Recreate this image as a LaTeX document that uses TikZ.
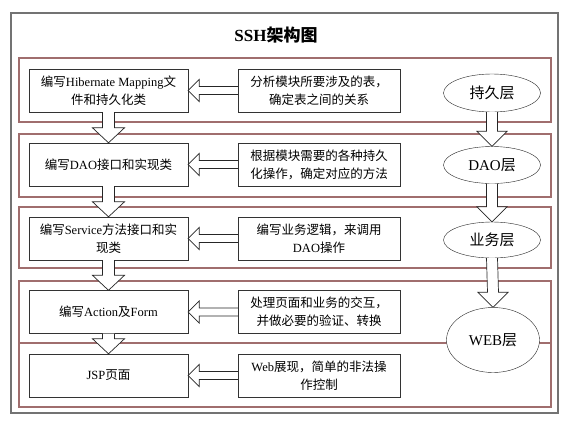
\documentclass[tikz,border=0pt]{standalone}
\usepackage{fontspec}
\setmainfont{Liberation Serif}
\newfontfamily\cjk{Noto Sans CJK SC}
\newcommand\zh[1]{{\cjk #1}}
\usetikzlibrary{calc,shapes.geometric}

\definecolor{bandred}{RGB}{160,110,110}
\definecolor{framegray}{RGB}{115,115,115}

% hollow block arrows, drawn from node to node
\newcommand\downblock[4]{%
  \draw[blk] ($(#1.south)+(-#3,0)$) -- ($(#2.north)+(-#3,-15)$) -- ($(#2.north)+(-#4,-15)$)
    -- (#2.north) -- ($(#2.north)+(#4,-15)$) -- ($(#2.north)+(#3,-15)$) -- ($(#1.south)+(#3,0)$);}
\newcommand\leftblock[2]{%
  \draw[blk] ($(#1.west)+(0,-4)$) -- ($(#2.east)+(11,-4)$) -- ($(#2.east)+(11,-11)$)
    -- (#2.east) -- ($(#2.east)+(11,11)$) -- ($(#2.east)+(11,4)$) -- ($(#1.west)+(0,4)$);}

\begin{document}
\begin{tikzpicture}[x=1pt, y=-1pt,
  box/.style={draw=black!80, fill=white, rectangle, minimum height=43pt, inner sep=0pt,
    align=center, font=\fontsize{12.5}{18}\selectfont},
  lbox/.style={box, minimum width=159pt},
  rbox/.style={box, minimum width=162pt},
  layer/.style={draw=black!85, fill=white, ellipse, minimum width=97pt, minimum height=37pt,
    inner sep=0pt, font=\fontsize{15}{18}\selectfont},
  band/.style={draw=bandred, line width=1.2pt},
  blk/.style={draw=black!85, fill=white, line width=0.7pt, line join=miter},
]
\fill[white] (0,0) rectangle (569,426);
\useasboundingbox (0,0) rectangle (569,426);
\draw[framegray, line width=1.4pt] (11,13) rectangle (558,413);
\node[font=\fontsize{17}{20}\selectfont\bfseries] (title) at (276,35) {SSH\zh{架构图}};

%==== bands ====
\draw[band] (19,58) rectangle (551,122);
\draw[band] (19,134) rectangle (551,197);
\draw[band] (19,207) rectangle (551,268);
\draw[band] (19,281) rectangle (551,407);
\draw[band] (19,343) -- (551,343);

%==== left column ====
\node[lbox] (hib)  at (108.5,90.5) {\zh{编写}Hibernate Mapping\zh{文}\\\zh{件和持久化类}};
\node[lbox] (dao)  at (108.5,164.5) {\zh{编写}DAO\zh{接口和实现类}};
\node[lbox] (svc)  at (108.5,238.5) {\zh{编写}Service\zh{方法接口和实}\\\zh{现类}};
\node[lbox] (act)  at (108.5,312) {\zh{编写}Action\zh{及}Form};
\node[lbox] (jsp)  at (108.5,375.5) {JSP\zh{页面}};

%==== right column ====
\node[rbox] (hibn) at (319,90.5) {\zh{分析模块所要涉及的表，}\\\zh{确定表之间的关系}};
\node[rbox] (daon) at (319,164.5) {\zh{根据模块需要的各种持久}\\\zh{化操作，确定对应的方法}};
\node[rbox] (svcn) at (319,238.5) {\zh{编写业务逻辑，来调用}\\DAO\zh{操作}};
\node[rbox] (actn) at (319,312) {\zh{处理页面和业务的交互，}\\\zh{并做必要的验证、转换}};
\node[rbox] (jspn) at (319,375.5) {Web\zh{展现，简单的非法操}\\\zh{作控制}};

%==== layers ====
\node[layer, minimum height=38pt] (lp)  at (492,93) {\zh{持久层}};
\node[layer] (ld)  at (492,165) {DAO\zh{层}};
\node[layer, minimum height=36pt] (lb)  at (492,240) {\zh{业务层}};
\node[layer, minimum width=93pt, minimum height=65pt] (lw) at (493,340) {WEB\zh{层}};

%==== arrows ====
\leftblock{hibn}{hib}
\leftblock{daon}{dao}
\leftblock{svcn}{svc}
\leftblock{actn}{act}
\leftblock{jspn}{jsp}

\downblock{hib}{dao}{6}{16}
\downblock{dao}{svc}{6}{16}
\downblock{svc}{act}{6}{16}
\downblock{act}{jsp}{6}{16}

\downblock{lp}{ld}{5.5}{15}
\downblock{ld}{lb}{5.5}{15}
\downblock{lb}{lw}{5.5}{15}

\end{tikzpicture}
\end{document}
